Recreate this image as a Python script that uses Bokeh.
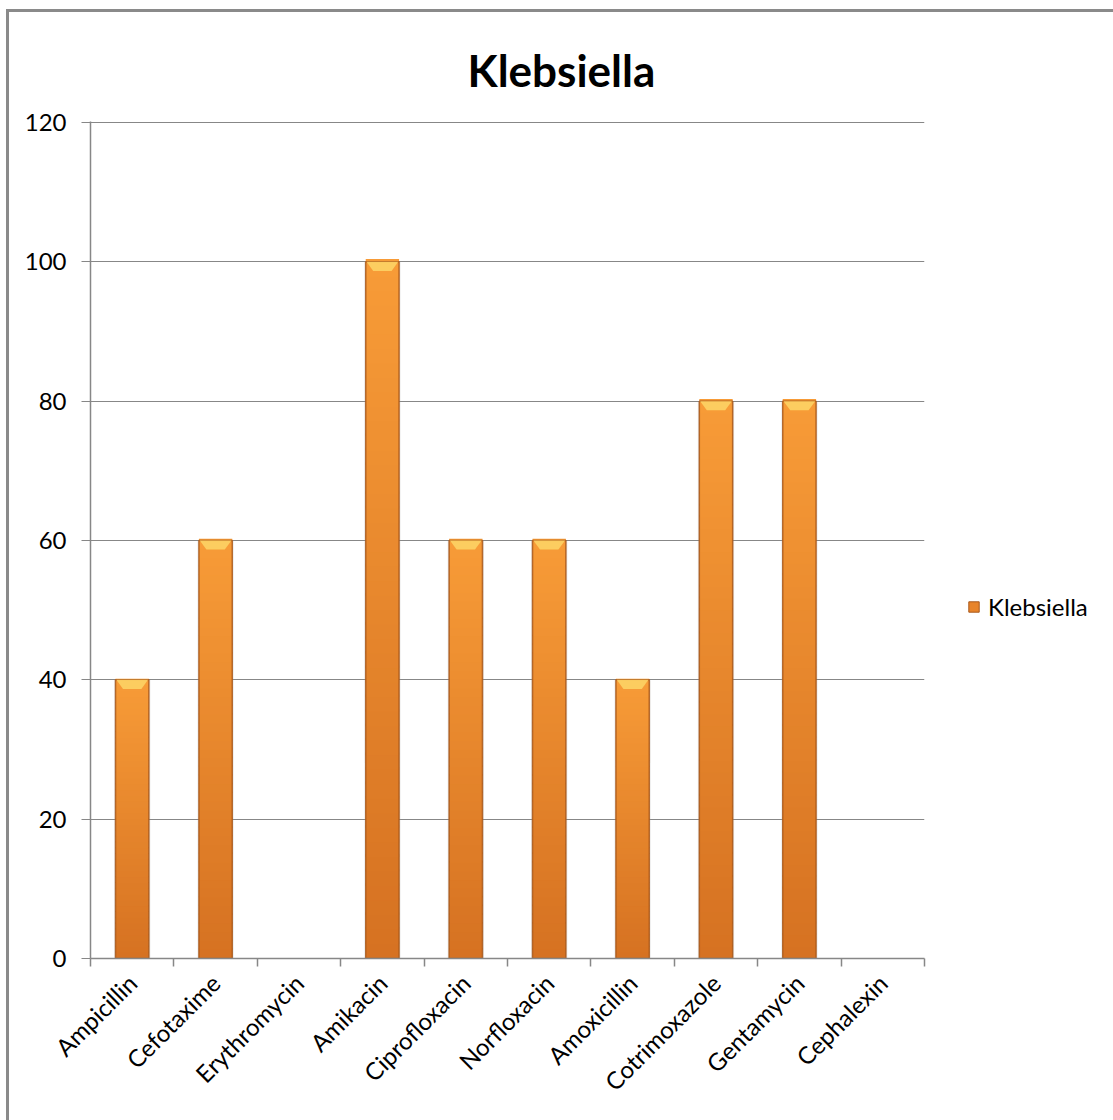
import numpy as np
from bokeh.plotting import figure
from bokeh.layouts import column
from bokeh.models import (ColumnDataSource, FixedTicker, Legend, LegendItem)
from bokeh.embed import file_html
from bokeh.resources import INLINE

# Resistance / sensitivity percentages per antibiotic
drugs = ["Ampicillin", "Cefotaxime", "Erythromycin", "Amikacin", "Ciprofloxacin",
         "Norfloxacin", "Amoxicillin", "Cotrimoxazole", "Gentamycin", "Cephalexin"]
klebsiella = [40, 60, 0, 100, 60, 60, 40, 80, 80, 0]
y_ticks = [0, 20, 40, 60, 80, 100, 120]
series_name = "Klebsiella"

FONT = "Lato"
GRID = "#878787"
BAR_W = 0.40

n_cat = len(drugs)
centers = np.arange(n_cat) + 0.5
vals = np.array(klebsiella, dtype=float)
has_bar = vals > 0

p = figure(
    frame_width=834, frame_height=837,
    x_range=(0, n_cat), y_range=(0, 120.15),
    output_backend="svg", toolbar_location=None,
    min_border_left=81, min_border_top=109,
    min_border_right=189, min_border_bottom=162,
    background_fill_color="white", border_fill_color="white",
)
p.outline_line_color = None

# title
p.title.text = series_name
p.title.text_font = FONT
p.title.text_font_size = "44px"
p.title.text_font_style = "bold"
p.title.text_color = "black"
p.title.align = "left"
p.title.offset = 377
p.title.standoff = 52

# grid
p.xgrid.grid_line_color = None
p.ygrid.grid_line_color = GRID
p.ygrid.grid_line_width = 1
p.ygrid.ticker = FixedTicker(ticks=y_ticks)

# y axis
p.yaxis.ticker = FixedTicker(ticks=y_ticks)
p.yaxis.axis_line_color = GRID
p.yaxis.axis_line_width = 1.5
p.yaxis.major_tick_line_color = GRID
p.yaxis.major_tick_out = 9
p.yaxis.major_tick_in = 0
p.yaxis.minor_tick_line_color = None
p.yaxis.major_label_standoff = 15
p.yaxis.major_label_text_font = FONT
p.yaxis.major_label_text_font_size = "24px"
p.yaxis.major_label_text_color = "black"

# x axis: labels at category centres, ticks at category boundaries
p.xaxis.ticker = FixedTicker(ticks=list(centers), minor_ticks=list(range(n_cat + 1)))
p.xaxis.major_label_overrides = {float(c): d for c, d in zip(centers, drugs)}
p.xaxis.major_tick_line_color = None
p.xaxis.minor_tick_line_color = GRID
p.xaxis.minor_tick_line_width = 1.5
p.xaxis.minor_tick_out = 8
p.xaxis.minor_tick_in = 0
p.xaxis.axis_line_color = GRID
p.xaxis.axis_line_width = 1.5
p.xaxis.major_label_orientation = np.pi / 4
p.xaxis.major_label_standoff = 12
p.xaxis.major_label_text_font = FONT
p.xaxis.major_label_text_font_size = "24px"
p.xaxis.major_label_text_color = "black"

# soft shadow behind each bar
p.vbar(x=centers[has_bar], top=vals[has_bar], width=BAR_W + 0.035, bottom=0,
       fill_color="#9a9a9a", fill_alpha=0.22, line_color=None)

# vertical shading: bars are built from stacked slices, light at the top, darker at the base
top_rgb = np.array([248, 156, 56])
bot_rgb = np.array([214, 114, 34])
n_slices = 48
xs, bots, tops, cols = [], [], [], []
for c, v in zip(centers, vals):
    if v <= 0:
        continue
    for k in range(n_slices):
        f0, f1 = k / n_slices, (k + 1) / n_slices
        t = (k + 0.5) / n_slices
        rgb = (bot_rgb * (1 - t) + top_rgb * t).astype(int)
        xs.append(c)
        bots.append(v * f0)
        tops.append(v * f1 + v * 0.004)
        cols.append("#%02x%02x%02x" % tuple(rgb))
slices = ColumnDataSource(dict(x=xs, bottom=bots, top=tops, color=cols))
p.vbar(x="x", bottom="bottom", top="top", width=BAR_W, source=slices,
       fill_color="color", line_color=None)

# darker side edges
p.vbar(x=centers[has_bar], top=vals[has_bar], width=BAR_W, bottom=0,
       fill_color=None, line_color="#a9581a", line_width=1.5, line_alpha=0.85)

# bevel highlight at the top of each bar
bev_xs, bev_ys = [], []
for c, v in zip(centers, vals):
    if v <= 0:
        continue
    l, r = c - BAR_W / 2, c + BAR_W / 2
    bev_xs.append([l + 0.01, r - 0.01, r - 0.09, l + 0.09])
    bev_ys.append([v, v, v - 1.3, v - 1.3])
p.patches(bev_xs, bev_ys, fill_color="#fcd062", line_color=None, fill_alpha=0.95)

# legend swatch (a zero-height bar kept outside the visible range)
swatch = p.vbar(x=[-5], top=[0], bottom=[0], width=BAR_W,
                fill_color="#e8842a", line_color="#a9581a")
legend = Legend(items=[LegendItem(label=series_name, renderers=[swatch])],
                location=(43, 337), orientation="vertical")
legend.border_line_color = None
legend.background_fill_alpha = 0
legend.padding = 0
legend.margin = 0
legend.glyph_width = 13
legend.glyph_height = 13
legend.label_standoff = 8
legend.label_text_font = FONT
legend.label_text_font_size = "24px"
legend.label_text_color = "black"
p.add_layout(legend, "right")

# chart-area frame: only its top and left edges fall inside the page
page = column(p, styles={"border-top": "3px solid #8a8a8a", "border-left": "3px solid #8a8a8a",
                         "margin-left": "6px", "margin-top": "9px"})

open("out.html", "w").write(file_html(page, INLINE))
